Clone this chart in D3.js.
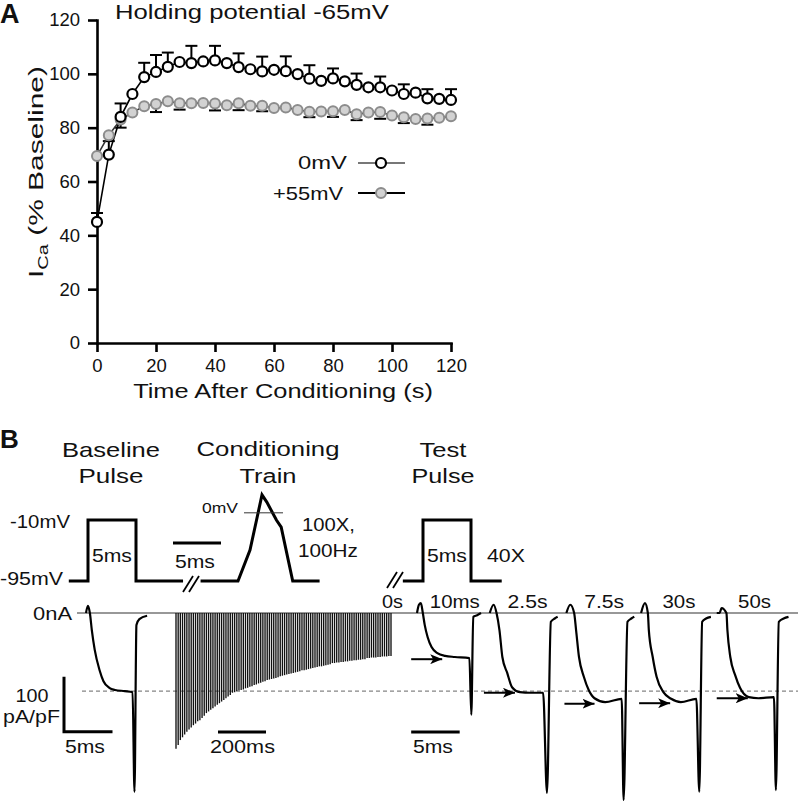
<!DOCTYPE html>
<html>
<head>
<meta charset="utf-8">
<script src="https://cdn.jsdelivr.net/npm/d3@7"></script>
<style>
body { margin: 0; background: #fff; }
svg { display: block; font-family: "Liberation Sans", Arial, sans-serif; }
</style>
</head>
<body>
<script>
// ---- Panel A data ----
const times = [0, 4, 8, 12, 16, 20, 24, 28, 32, 36, 40, 44, 48, 52, 56, 60, 64, 68, 72, 76, 80, 84, 88, 92, 96, 100, 104, 108, 112, 116, 120];
const zeroMv = [45, 70, 84, 92.5, 98.8, 100.7, 102.6, 104.4, 104, 104.6, 105, 104, 102.5, 101.7, 100.9, 101.5, 101, 99.9, 98.2, 97.4, 98.3, 97.2, 95.9, 95, 95, 93.8, 92.5, 93, 90.9, 90.7, 90.3];
const zeroMvErr = [3.3, 5, 5, 0, 5.3, 6.3, 5.3, 0, 6.4, 0, 5.4, 0, 5.1, 0, 5.5, 0, 5.5, 0, 5, 0, 3.7, 0, 4.2, 0, 4, 0, 3.6, 0, 3.4, 0, 4];
const plus55 = [69.5, 77.2, 83, 85.6, 88, 88.8, 89.8, 89.1, 89.1, 89.2, 89, 88.3, 89.1, 88.1, 88.1, 87.3, 87.5, 86.6, 85.9, 86, 86.1, 86.6, 85, 85.6, 85.8, 84.5, 83.9, 83.2, 83.4, 83.7, 84.2];
const plus55Err = [0, 0, 3, 0, 0, 3, 0, 2.4, 0, 0, 2.6, 0, 2.6, 0, 2, 0, 0, 0, 2, 0, 2.1, 0, 2.2, 0, 2.5, 0, 2.2, 0, 2.3, 0, 0];
const xTicks = [0, 20, 40, 60, 80, 100, 120];
const yTicks = [0, 20, 40, 60, 80, 100, 120];
const seriesNames = ["0mV", "+55mV"];

// ---- Panel B data ----
// voltage protocols (ms, mV)
const basePulseT = [-2, 0, 0, 5, 5, 9.9];
const basePulseV = [-95, -95, -10, -10, -95, -95];
const apT = [-3.9, 0, 1.25, 2.5, 3.0, 4.0, 4.5, 5.7, 8.5];
const apV = [-95, -95, -52, 25, 15, -10, -20, -95, -95];
const testPulseT = [-2.1, 0, 0, 5, 5, 8.2];
const testPulseV = [-95, -95, -10, -10, -95, -95];
// baseline current trace (ms, pA/pF)
const baseT = [0, 0.2, 0.4, 0.6, 0.9, 1.4, 1.8, 2.4, 3.0, 4.0, 4.8, 5.0, 5.2, 5.5, 6.3];
const baseI = [0, 13, 0, -31, -67, -104, -124, -136, -140, -142, -144, -325, -22, -11, -5];
// conditioning train peak currents (pA/pF), 100 pulses
const trainPeaks = [
  247, 240, 231, 226, 221, 216, 212, 208, 204, 201,
  197, 195, 191, 187, 182, 179, 176, 173, 170, 167,
  164, 161, 158, 155, 152, 149, 145, 144, 142, 141,
  140, 139, 137, 136, 134, 133, 131, 130, 128, 127,
  125, 124, 122, 121, 120, 119, 118, 117, 115, 114,
  113, 112, 111, 110, 109, 108, 107, 106, 104, 104,
  103, 102, 101, 100, 99, 98, 97, 97, 96, 95,
  94, 93, 91, 91, 90, 90, 89, 89, 88, 88,
  87, 87, 86, 86, 85, 85, 84, 84, 82, 82,
  81, 81, 81, 80, 80, 79, 79, 79, 78, 78
];
// test pulse current traces
const testLabels = ["10ms", "2.5s", "7.5s", "30s", "50s"];
const testLabelWidths = [50, 40, 40, 33, 33];
const testStarts = [0, 7.5, 15.4, 23.1, 30.9];
const testT = [
  [0, 0.2, 0.4, 0.6, 0.8, 1.1, 1.5, 2.1, 2.9, 3.9, 5.4, 5.6, 5.8, 6.2, 6.6],
  [0, 0.4, 0.7, 1.0, 1.3, 1.8, 2.3, 3.1, 4.2, 5.5, 5.9, 6.3, 6.7, 7.0],
  [0, 0.4, 0.8, 1.0, 1.3, 1.8, 2.3, 2.9, 4.0, 5.7, 5.9, 6.3, 6.7, 7.0],
  [0, 0.4, 0.7, 0.8, 1.2, 1.6, 2.3, 3.1, 4.1, 5.7, 6.0, 6.3, 6.7, 7.2],
  [0, 0.3, 0.5, 1.0, 1.1, 1.4, 1.9, 2.4, 3.3, 4.3, 5.9, 6.1, 6.4, 6.9, 7.4]
];
const testI = [
  [0, 15, 18, 0, -22, -44, -62, -73, -78, -80, -82, -185, -7, -4, 0],
  [0, 15, 0, -31, -80, -109, -135, -144, -145, -145, -327, -16, -10, -7],
  [0, 15, 0, -31, -80, -116, -140, -155, -162, -156, -340, -16, -10, -7],
  [0, 18, 0, -31, -80, -116, -144, -156, -162, -156, -325, -16, -10, -7],
  [0, 0, 9, 0, -31, -80, -113, -136, -153, -155, -153, -322, -16, -10, -7]
];
const arrowT0 = [-0.6, -0.6, -0.2, -0.2, 0];
const arrowT1 = [2.6, 2.6, 2.9, 3.0, 3.2];
const arrowI = [-84, -145, -165, -164, -155];

const svg = d3.select("body").append("svg")
    .attr("width", 798)
    .attr("height", 802);

// text helper: scales glyphs along the baseline to hit a target width
function txt(g, s, x, y, o = {}) {
    const t = g.append("text")
        .attr("text-anchor", o.anchor || "start")
        .attr("font-size", o.size || 18)
        .attr("font-weight", o.bold ? "bold" : null)
        .attr("fill", "#111")
        .text(s);
    const w0 = t.node().getComputedTextLength();
    const sx = o.width ? o.width / w0 : 1;
    t.attr("transform", `translate(${x},${y}) rotate(${o.rotate || 0}) scale(${sx},1)`);
    return t;
}

// ================= Panel A =================
const x = d3.scaleLinear().domain([0, 120]).range([97, 451]);
const y = d3.scaleLinear().domain([0, 120]).range([343, 20]);
const gA = svg.append("g");

txt(gA, "A", 0, 23, {size: 27, bold: true});
txt(gA, "Holding potential -65mV", 115, 19, {size: 21, width: 274});

let ax = gA.append("g").attr("transform", "translate(0,343)")
    .call(d3.axisBottom(x).tickValues(xTicks).tickSize(9).tickSizeOuter(0).tickPadding(7));
let ay = gA.append("g").attr("transform", "translate(97,0)")
    .call(d3.axisLeft(y).tickValues(yTicks).tickSize(9).tickSizeOuter(0).tickPadding(8));
[ax, ay].forEach((a) => {
    a.attr("font-size", 18.5).attr("font-family", null);
    a.selectAll("path, line").attr("stroke", "#000").attr("stroke-width", 2.6);
    a.select(".domain").attr("stroke-linecap", "square");
    a.selectAll("text").attr("fill", "#111");
});

txt(gA, "Time After Conditioning (s)", 283, 398, {size: 21, anchor: "middle", width: 300});

// y axis title with subscript
let yl = gA.append("text")
    .attr("text-anchor", "middle")
    .attr("font-size", 21)
    .attr("fill", "#111");
yl.append("tspan").text("I");
yl.append("tspan").attr("font-size", 14).attr("dy", 5).text("Ca");
yl.append("tspan").attr("dy", -5).text(" (% Baseline)");
const ylw = yl.node().getComputedTextLength();
yl.attr("transform", `translate(43,172) rotate(-90) scale(${212 / ylw},1)`);

// error bars
function errBars(vals, errs, dir) {
    let g = gA.append("g").attr("stroke", "#000").attr("stroke-width", 2);
    times.forEach((t, i) => {
        if (!errs[i]) return;
        const y0 = y(vals[i]), y1 = y(vals[i] + dir * errs[i]);
        g.append("line").attr("x1", x(t)).attr("x2", x(t)).attr("y1", y0).attr("y2", y1);
        g.append("line").attr("x1", x(t) - 6).attr("x2", x(t) + 6).attr("y1", y1).attr("y2", y1);
    });
}
errBars(plus55, plus55Err, -1);
errBars(zeroMv, zeroMvErr, 1);

const line = (vals) => d3.line().x((d, i) => x(times[i])).y((d) => y(d))(vals);
gA.append("path").attr("d", line(plus55)).attr("fill", "none").attr("stroke", "#333").attr("stroke-width", 1.6);
gA.append("path").attr("d", line(zeroMv)).attr("fill", "none").attr("stroke", "#000").attr("stroke-width", 1.6);

gA.append("g").selectAll("circle").data(plus55).join("circle")
    .attr("cx", (d, i) => x(times[i])).attr("cy", (d) => y(d)).attr("r", 5)
    .attr("fill", "#d2d2d2").attr("stroke", "#8c8c8c").attr("stroke-width", 2);
gA.append("g").selectAll("circle").data(zeroMv).join("circle")
    .attr("cx", (d, i) => x(times[i])).attr("cy", (d) => y(d)).attr("r", 5)
    .attr("fill", "#fff").attr("stroke", "#000").attr("stroke-width", 2.2);

// legend
const legY = [163, 193];
txt(gA, seriesNames[0], 347, 169, {size: 19, anchor: "end", width: 49});
txt(gA, seriesNames[1], 343, 200, {size: 19, anchor: "end", width: 70});
gA.append("line").attr("x1", 358).attr("x2", 405).attr("y1", legY[0]).attr("y2", legY[0])
    .attr("stroke", "#777").attr("stroke-width", 2);
gA.append("circle").attr("cx", 381).attr("cy", legY[0]).attr("r", 5)
    .attr("fill", "#fff").attr("stroke", "#000").attr("stroke-width", 2.2);
gA.append("line").attr("x1", 358).attr("x2", 405).attr("y1", legY[1]).attr("y2", legY[1])
    .attr("stroke", "#000").attr("stroke-width", 2);
gA.append("circle").attr("cx", 381).attr("cy", legY[1]).attr("r", 5)
    .attr("fill", "#d2d2d2").attr("stroke", "#8c8c8c").attr("stroke-width", 2);

// ================= Panel B =================
const gB = svg.append("g");
txt(gB, "B", 0, 448, {size: 26, bold: true});
txt(gB, "Baseline", 111, 457, {size: 21, anchor: "middle", width: 98});
txt(gB, "Pulse", 111, 483, {size: 21, anchor: "middle", width: 65});
txt(gB, "Conditioning", 268, 456, {size: 21, anchor: "middle", width: 143});
txt(gB, "Train", 268, 483, {size: 21, anchor: "middle", width: 57});
txt(gB, "Test", 443, 457, {size: 21, anchor: "middle", width: 47});
txt(gB, "Pulse", 443, 483, {size: 21, anchor: "middle", width: 63});

// voltage protocols
const vScale = d3.scaleLinear().domain([-95, -10]).range([581, 520]);
const pScale = d3.scaleLinear().domain([0, 10]).range([0, 96]);
function proto(ts, vs, x0) {
    gB.append("path")
        .attr("d", d3.line().x((d, i) => x0 + pScale(ts[i])).y((d) => vScale(d))(vs))
        .attr("fill", "none").attr("stroke", "#000").attr("stroke-width", 3)
        .attr("stroke-linejoin", "miter");
}
proto(basePulseT, basePulseV, 88);
proto(apT, apV, 238);
proto(testPulseT, testPulseV, 423);

function breakMark(cx, cy) {
    [-3, 3].forEach((dx) => {
        gB.append("line")
            .attr("x1", cx + dx - 5).attr("y1", cy + 8)
            .attr("x2", cx + dx + 5).attr("y2", cy - 8)
            .attr("stroke", "#000").attr("stroke-width", 1.8);
    });
}
breakMark(191, 584);
breakMark(395, 580);

gB.append("line").attr("x1", 244).attr("x2", 283).attr("y1", vScale(0)).attr("y2", vScale(0))
    .attr("stroke", "#333").attr("stroke-width", 1);
txt(gB, "0mV", 238, 513, {size: 15, anchor: "end", width: 36});
txt(gB, "-10mV", 70, 528, {size: 18, anchor: "end", width: 60});
txt(gB, "-95mV", 63, 585, {size: 18, anchor: "end", width: 63});
txt(gB, "5ms", 92, 562, {size: 18, width: 40});
gB.append("line").attr("x1", 173).attr("x2", 173 + pScale(5)).attr("y1", 543).attr("y2", 543)
    .attr("stroke", "#000").attr("stroke-width", 3);
txt(gB, "5ms", 175, 568, {size: 18, width: 40});
txt(gB, "100X,", 302, 531, {size: 18, width: 53});
txt(gB, "100Hz", 298, 557, {size: 18, width: 60});
txt(gB, "5ms", 427, 562, {size: 18, width: 40});
txt(gB, "40X", 487, 562, {size: 18, width: 38});

// current traces
const yI = d3.scaleLinear().domain([0, -100]).range([613, 668]);
const xBase = d3.scaleLinear().domain([0, 10]).range([86, 183]);
const xTest = d3.scaleLinear().domain([0, 10]).range([417, 514]);
const xTrain = d3.scaleLinear().domain([0, 99]).range([176, 391]);

// zero-current line and baseline plateau reference
gB.append("line").attr("x1", 77).attr("x2", 798).attr("y1", yI(0)).attr("y2", yI(0))
    .attr("stroke", "#333").attr("stroke-width", 1.1);
gB.append("line").attr("x1", 82).attr("x2", 798).attr("y1", yI(-142)).attr("y2", yI(-142))
    .attr("stroke", "#666").attr("stroke-width", 1).attr("stroke-dasharray", "4,3");
txt(gB, "0nA", 72, 620, {size: 18, anchor: "end", width: 39});

// train
gB.append("g").selectAll("line").data(trainPeaks).join("line")
    .attr("x1", (d, i) => xTrain(i)).attr("x2", (d, i) => xTrain(i))
    .attr("y1", yI(0)).attr("y2", (d) => yI(-d))
    .attr("stroke", "#111").attr("stroke-width", 1.35);

const traceLine = (ts, xs) => d3.line().curve(d3.curveMonotoneX)
    .x((d, i) => xs(ts[i])).y((d) => yI(d));
gB.append("path").attr("d", traceLine(baseT, xBase)(baseI))
    .attr("fill", "none").attr("stroke", "#000").attr("stroke-width", 2.2);

// arrow marker
svg.append("defs").append("marker")
    .attr("id", "ah").attr("viewBox", "0 0 12 10")
    .attr("refX", 12).attr("refY", 5)
    .attr("markerWidth", 12).attr("markerHeight", 10)
    .attr("markerUnits", "userSpaceOnUse").attr("orient", "auto")
    .append("path").attr("d", "M0,0 L12,5 L0,10 L3,5 Z").attr("fill", "#000");

testT.forEach((ts, k) => {
    const s = testStarts[k];
    const xs = (t) => xTest(s + t);
    gB.append("path").attr("d", traceLine(ts, xs)(testI[k]))
        .attr("fill", "none").attr("stroke", "#000").attr("stroke-width", 2.2);
    gB.append("line")
        .attr("x1", xs(arrowT0[k])).attr("x2", xs(arrowT1[k]))
        .attr("y1", yI(arrowI[k])).attr("y2", yI(arrowI[k]))
        .attr("stroke", "#000").attr("stroke-width", 2)
        .attr("marker-end", "url(#ah)");
    txt(gB, testLabels[k], xTest(s + 3.9), 608, {size: 18, anchor: "middle", width: testLabelWidths[k]});
});
txt(gB, "0s", 382, 608, {size: 18, width: 21});

// scale bars
gB.append("path")
    .attr("d", `M64,${yI(-116)}V${yI(-216)}H${xBase(0) - 22 + xBase(5) - xBase(0)}`)
    .attr("fill", "none").attr("stroke", "#000").attr("stroke-width", 3);
txt(gB, "100", 32, 702, {size: 18, anchor: "middle", width: 33});
txt(gB, "pA/pF", 3, 723, {size: 18, width: 57});
txt(gB, "5ms", 65, 753, {size: 18, width: 40});
gB.append("line").attr("x1", 218).attr("x2", 266).attr("y1", 732).attr("y2", 732)
    .attr("stroke", "#000").attr("stroke-width", 3);
txt(gB, "200ms", 210, 753, {size: 18, width: 65});
gB.append("line").attr("x1", xTest(-0.6)).attr("x2", xTest(4.4)).attr("y1", 732).attr("y2", 732)
    .attr("stroke", "#000").attr("stroke-width", 3);
txt(gB, "5ms", 413, 753, {size: 18, width: 40});
</script>
</body>
</html>
